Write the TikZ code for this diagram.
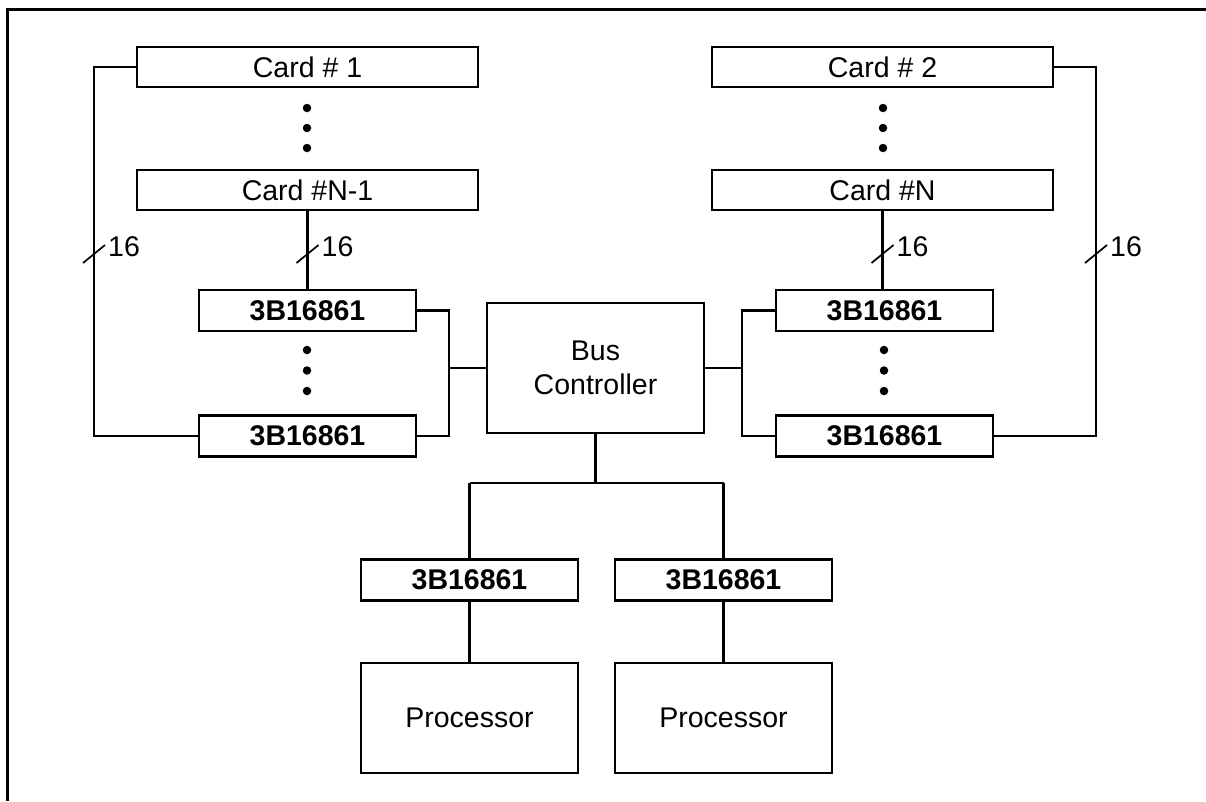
\documentclass[tikz,border=0pt]{standalone}
\usepackage{fontspec}
\setmainfont{Liberation Sans}
\begin{document}
\begin{tikzpicture}[x=1pt,y=-1pt,
  txt/.style={font=\fontsize{28.5}{34}\selectfont},
  box/.style={draw, line width=2.1pt, inner sep=0pt, align=center, txt},
  card/.style={box, minimum width=341pt, minimum height=40pt},
  chip/.style={box, minimum width=217pt, minimum height=41pt, font=\fontsize{28.5}{34}\selectfont\bfseries},
  conn/.style={line width=2.1pt},
  slash/.style={line width=1.7pt},
  lbl/.style={anchor=west, inner sep=0pt, txt},
  dotc/.style={fill, circle, inner sep=0pt, minimum size=8.5pt}]
\useasboundingbox (0,0) rectangle (1206,801);
% frame
\draw[line width=3pt] (1206,9) -- (7,9) -- (7,801);
% cards
\node[card] (c1)  at (307.5,67)  {Card \# 1};
\node[card] (cN1) at (307.5,190) {Card \#N-1};
\node[card] (c2)  at (882.5,67)  {Card \# 2};
\node[card] (cN)  at (882.5,190) {Card \#N};
% chips
\node[chip] (bL1) at (307.5,310.5) {3B16861};
\node[chip] (bL2) at (307.5,436)   {3B16861};
\node[chip] (bR1) at (884.5,310.5) {3B16861};
\node[chip] (bR2) at (884.5,436)   {3B16861};
\node[chip] (bB1) at (469.5,580)   {3B16861};
\node[chip] (bB2) at (723.5,580)   {3B16861};
% bus controller
\node[box, minimum width=217pt, minimum height=130pt] (bus) at (595.5,368) {Bus\\Controller};
% processors
\node[box, minimum width=217pt, minimum height=110pt] (p1) at (469.5,718) {Processor};
\node[box, minimum width=217pt, minimum height=110pt] (p2) at (723.5,718) {Processor};
% dots
\foreach \y [count=\i] in {108,128,148} {
  \node[dotc] (dl\i) at (307,\y) {};
  \node[dotc] (dr\i) at (883,\y) {};
}
\foreach \y [count=\i] in {350,370.5,391} {
  \node[dotc] (dlb\i) at (307,\y) {};
  \node[dotc] (drb\i) at (884,\y) {};
}
% helper coordinates
\coordinate (xl) at (94,0);
\coordinate (xr) at (1096,0);
\coordinate (jl) at (449,0);
\coordinate (jr) at (742,0);
\coordinate (jb) at (0,483);
% left outer bus
\draw[conn] (c1.west) -| (xl |- bL2.west) -- (bL2.west);
% right outer bus
\draw[conn] (c2.east) -| (xr |- bR2.east) -- (bR2.east);
% card to chip
\draw[conn] (cN1.south) -- (cN1.south |- bL1.north);
\draw[conn] (cN.south) -- (cN.south |- bR1.north);
% left chips to bus
\draw[conn] (bL1.east) -| (jl |- bL2.east) -- (bL2.east);
\draw[conn] (jl |- bus.west) -- (bus.west);
% right chips to bus
\draw[conn] (bR1.west) -| (jr |- bR2.west) -- (bR2.west);
\draw[conn] (bus.east) -- (jr |- bus.east);
% bus to bottom chips
\draw[conn] (bus.south) -- (bus.south |- jb);
\draw[conn] (bB1.north |- jb) -- (bB2.north |- jb);
\draw[conn] (bB1.north |- jb) -- (bB1.north);
\draw[conn] (bB2.north |- jb) -- (bB2.north);
% chips to processors
\draw[conn] (bB1.south) -- (p1.north);
\draw[conn] (bB2.south) -- (p2.north);
% slashes and widths
\foreach \c/\n in {xl/a, cN1/b, cN/c, xr/d} {
  \coordinate (s\n) at (\c |- 0,254);
  \draw[slash] (s\n) ++(-11,9) -- ++(22,-18);
  \node[lbl] (l\n) at ([xshift=14pt]\c |- 0,247) {16};
}
\end{tikzpicture}
\end{document}
